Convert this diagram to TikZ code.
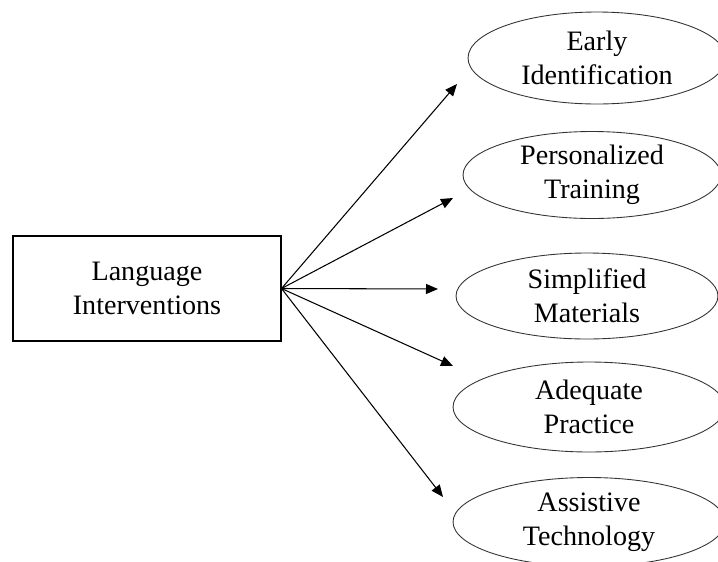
\documentclass[tikz,border=0pt]{standalone}
\usepackage{fontspec}
\setmainfont{Liberation Serif}
\usetikzlibrary{shapes.geometric,arrows.meta}

\tikzset{
    mainbox/.style={draw, line width=0.6pt, minimum width=5.36cm, minimum height=2.1cm, align=center, inner sep=0pt},
    oval/.style={draw, ellipse, line width=0.5pt, draw=black!80, minimum width=5.25cm, minimum height=1.8cm, align=center, inner sep=0pt},
    arr/.style={-{Triangle[length=2.4mm, width=2mm]}, line width=0.6pt}
}

\begin{document}
\begin{tikzpicture}[x=0.02cm, y=-0.02cm, font=\fontsize{16}{19.4}\selectfont]
            \clip (0, 0) rectangle (718, 562);

            \node[mainbox] (lang) at (147, 288.5) {Language\\Interventions};

            \node[oval, minimum width=5.16cm, minimum height=1.84cm] (ident) at (597, 58) {Early\\Identification};
            \node[oval, minimum width=5.16cm, minimum height=1.74cm] (train) at (592, 175) {Personalized\\Training};
            \node[oval, minimum width=5.24cm, minimum height=1.72cm] (simpl) at (587, 296) {Simplified\\Materials};
            \node[oval, minimum width=5.44cm, minimum height=1.8cm] (pract) at (589, 407) {Adequate\\Practice};
            \node[oval, minimum width=5.44cm, minimum height=1.78cm] (tech) at (589, 522) {Assistive\\Technology};

            \coordinate (t1) at (457, 84);
            \coordinate (t2) at (453, 198);
            \coordinate (t3) at (438, 289);
            \coordinate (t4) at (453, 366);
            \coordinate (t5) at (443, 497);

            \draw[arr] (lang.east) -- (t1);
            \draw[arr] (lang.east) -- (t2);
            \draw[arr] (lang.east) -- (t3);
            \draw[arr] (lang.east) -- (t4);
            \draw[arr] (lang.east) -- (t5);
        \end{tikzpicture}
\end{document}
